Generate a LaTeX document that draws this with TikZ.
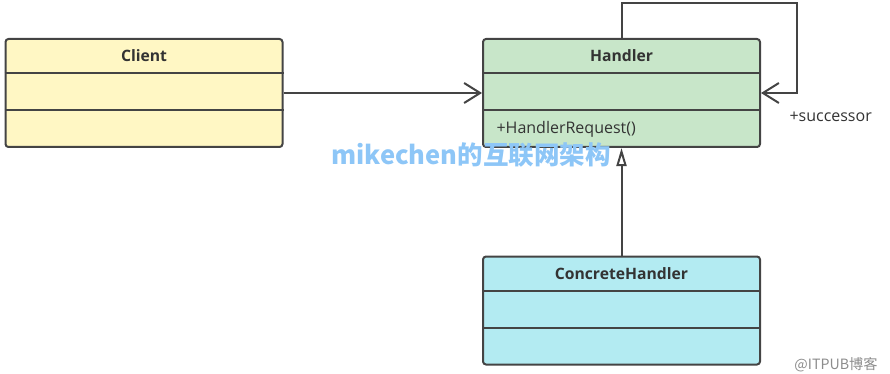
\documentclass[tikz,border=0pt]{standalone}
\usepackage{fontspec}
\setmainfont{Open Sans}
\newfontfamily\cjk{Noto Sans CJK SC}
\usepackage{xcolor}
\usetikzlibrary{arrows.meta,positioning,calc}
\definecolor{umlline}{HTML}{444444}
\definecolor{umltext}{HTML}{333333}
\definecolor{clientfill}{HTML}{FFF7C4}
\definecolor{handlerfill}{HTML}{C8E6C9}
\definecolor{concretefill}{HTML}{B3EBF2}
\definecolor{wmblue}{HTML}{8DC6F7}

\begin{document}
\begin{tikzpicture}[x=1pt,y=-1pt,
    cls/.style={draw=umlline,line width=2pt,rounded corners=3pt,
      minimum width=277pt,minimum height=108pt,inner sep=0pt},
    divider/.style={draw=umlline,line width=2pt},
    title/.style={font=\fontsize{15.7}{18}\selectfont\bfseries,text=umltext},
    member/.style={font=\fontsize{16}{19}\selectfont,text=umltext},
    assoc/.style={-{Straight Barb[length=16pt,width=20pt]},line width=2pt,draw=umlline},
    inherit/.style={-{Triangle[open,length=18pt,width=10pt,fill=white]},line width=2pt,draw=umlline},
    wmtext/.style={font=\cjk\bfseries\fontsize{25.5}{29}\selectfont,text=wmblue}
  ]
    \useasboundingbox (0,0) rectangle (890,374);
    % classes
    \node[cls,fill=clientfill] (client) at (144,93) {};
    \node[cls,fill=handlerfill] (handler) at (621.5,93) {};
    \node[cls,fill=concretefill] (concrete) at (621.5,310.5) {};
    \foreach \c in {client,handler,concrete}{
      \draw[divider] ([yshift=-35pt]\c.north west) -- ([yshift=-35pt]\c.north east);
      \draw[divider] ([yshift=-72pt]\c.north west) -- ([yshift=-72pt]\c.north east);
    }
    \node[title] (clientname) at ([yshift=-18pt]client.north) {Client};
    \node[title] (handlername) at ([yshift=-18pt]handler.north) {Handler};
    \node[title] (concretename) at ([yshift=-18pt]concrete.north) {ConcreteHandler};
    \node[member,anchor=west] (request) at ([xshift=11pt,yshift=-91pt]handler.north west) {+HandlerRequest()};
    % relations
    \coordinate (loop) at (797,3);
    \draw[assoc] (client.east) -- (handler.west);
    \draw[assoc] (handler.north) |- (loop) |- (handler.east);
    \node[member,anchor=west] (succ) at (786,117) {+successor};
    \draw[inherit] (concrete.north) -- (handler.south);
    % watermarks
    \node[wmtext] (wm) at (471,155) {mikechen的互联网架构};
    \node[font=\cjk\fontsize{14.2}{16}\selectfont,text=black!45] (itpub) at (836,365) {@ITPUB博客};
\end{tikzpicture}
\end{document}
